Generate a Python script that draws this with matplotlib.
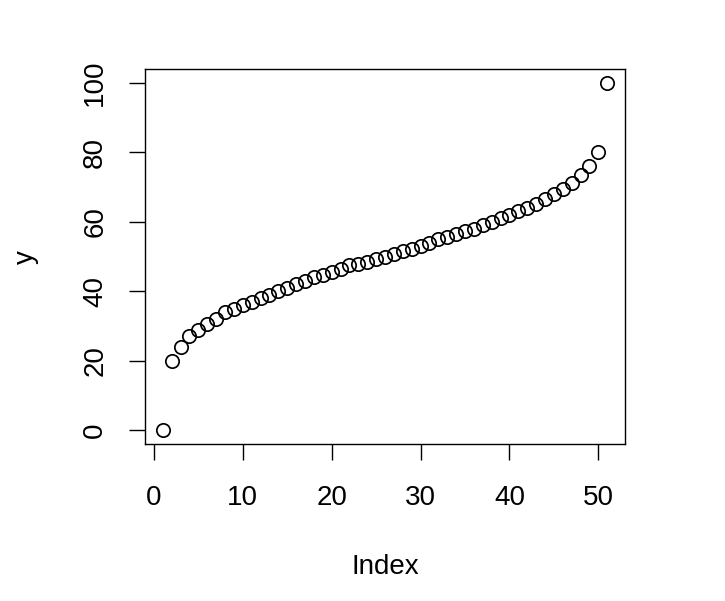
import numpy as np
import matplotlib
matplotlib.use("Agg")
import matplotlib.pyplot as plt

plt.rcParams['font.family'] = ['Liberation Sans', 'DejaVu Sans']

# values (index 1..51)
y = [0, 20, 24, 27, 29, 30.7, 32, 34, 35, 36,
     37, 38, 39, 40, 41, 42, 43, 44, 44.8, 45.5,
     46.3, 47.5, 48, 48.5, 49.3, 50, 50.8, 51.5, 52.2, 53,
     54, 55, 55.7, 56.5, 57.3, 58, 59, 60, 61, 62,
     63, 64, 65.2, 66.6, 68, 69.5, 71.3, 73.5, 76, 80,
     100]
index = np.arange(1, len(y) + 1)
x_ticks = [0, 10, 20, 30, 40, 50]
y_ticks = [0, 20, 40, 60, 80, 100]

fig = plt.figure(figsize=(7.25, 6.01), dpi=100)
ax = fig.add_axes([0.2, 0.261, 0.662, 0.624])

ax.plot(index, y, linestyle='none', marker='o', markersize=9.6,
        markerfacecolor='none', markeredgecolor='black', markeredgewidth=1.25)

# R style 4% padding
xr = index.max() - index.min()
ax.set_xlim(index.min() - 0.04 * xr, index.max() + 0.04 * xr)
yr = max(y) - min(y)
ax.set_ylim(min(y) - 0.04 * yr, max(y) + 0.04 * yr)

ax.set_xticks(x_ticks)
ax.set_yticks(y_ticks)
ax.tick_params(axis='both', direction='out', length=11.5, width=1,
               labelsize=20, color='black')
ax.tick_params(axis='x', pad=18)
ax.tick_params(axis='y', pad=15)
for lab in ax.get_yticklabels():
    lab.set_rotation(90)
    lab.set_va('center')

for s in ax.spines.values():
    s.set_linewidth(1)
    s.set_color('black')

ax.set_xlabel('Index', fontsize=20, labelpad=31)
ax.set_ylabel('y', fontsize=20, labelpad=31)

fig.savefig('out.png', dpi=100)
